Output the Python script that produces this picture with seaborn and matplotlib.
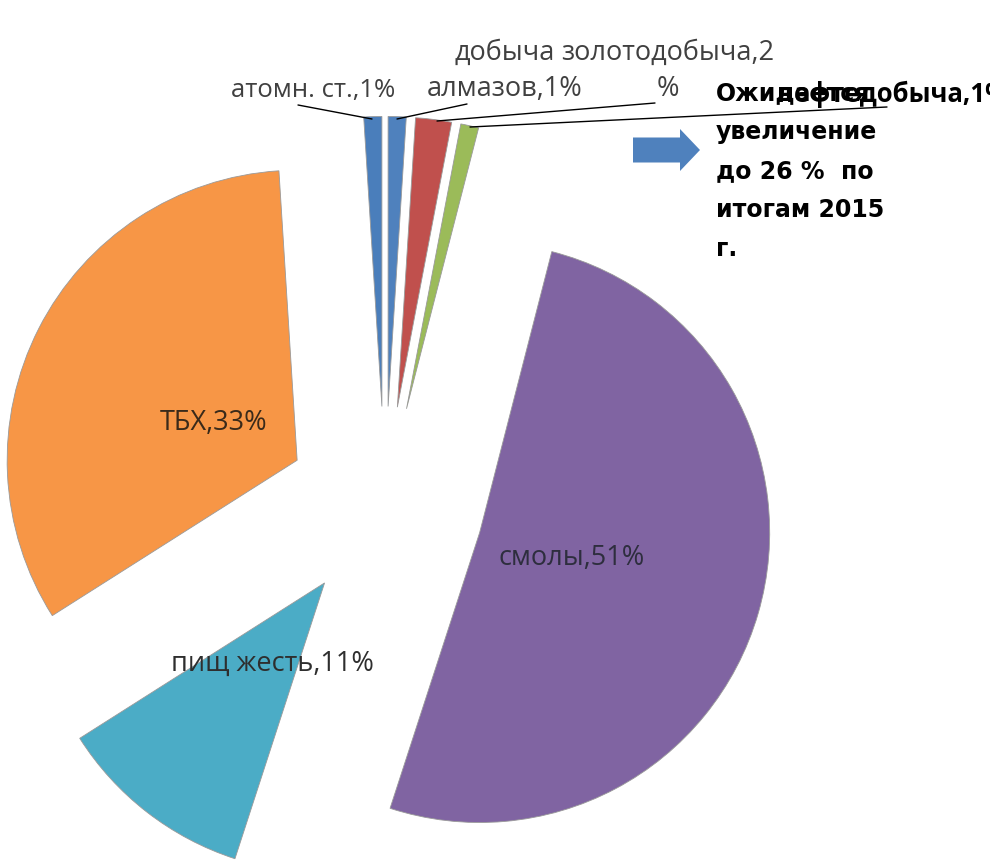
import matplotlib
matplotlib.use("Agg")
import matplotlib.pyplot as plt
import seaborn as sns
from matplotlib.patches import FancyArrow

sns.set_theme(style="white")
plt.rcParams['font.family'] = ['Open Sans', 'DejaVu Sans']

# Data (clockwise from 12 o'clock)
categories = ["добыча алмазов", "золотодобыча", "нефтедобыча", "смолы",
              "пищ жесть", "ТБХ", "атомн. ст."]
values = [1, 2, 1, 51, 11, 33, 1]
colors = ["#4F81BD", "#C0504D", "#9BBB59", "#8064A2", "#4BACC6", "#F79646", "#4A7EBB"]

W, H = 990, 865
R = 290
explode = [0.34 * R] * len(values)   # matplotlib offsets in data units

fig = plt.figure(figsize=(W / 100, H / 100), dpi=100)
ax = fig.add_axes([0, 0, 1, 1])

def P(px, py):
    return (px, H - py)

ax.pie(values, colors=colors, explode=explode, startangle=90,
       counterclock=False, center=P(385, 505), radius=R,
       wedgeprops=dict(edgecolor="#9a9a9a", linewidth=0.6), frame=True)
ax.set_xlim(0, W)
ax.set_ylim(0, H)
ax.set_aspect('auto')
ax.axis('off')

lc = "#404040"
fs = 19.5
# outside labels
ax.text(*P(313, 90), "атомн. ст.,1%", ha="center", va="center", fontsize=18.5, color=lc)
ax.text(*P(505, 71), "добыча\nалмазов,1%", ha="center", va="center", fontsize=fs,
        color=lc, linespacing=1.4)
ax.text(*P(668, 71), "золотодобыча,2\n%", ha="center", va="center", fontsize=fs,
        color=lc, linespacing=1.4)
ax.text(*P(777, 94), "нефтедобыча,1%", ha="left", va="center", fontsize=18.5,
        color="black", fontweight="bold")

# leader lines
for (x1, y1), (x2, y2) in [((298, 105), (372, 119)), ((467, 104), (397, 119)),
                           ((655, 103), (437, 121)), ((887, 107), (470, 127))]:
    ax.plot([x1, x2], [H - y1, H - y2], color="black", lw=1.0)

# inside labels
ax.text(*P(214, 423), "ТБХ,33%", ha="center", va="center", fontsize=fs, color="#3a2a1a")
ax.text(*P(572, 558), "смолы,51%", ha="center", va="center", fontsize=fs, color="#2e2e3e")
ax.text(*P(272, 664), "пищ жесть,11%", ha="center", va="center", fontsize=fs, color="#2e2e2e")

# arrow and note
ax.add_patch(FancyArrow(633, H - 150, 47, 0, width=25, head_width=42, head_length=20,
                        length_includes_head=False, color="#4F81BD", lw=0))
note = ["Ожидается", "увеличение", "до 26 %  по", "итогам 2015", "г."]
for i, line in enumerate(note):
    ax.text(*P(716, 93 + 39 * i), line, ha="left", va="center", fontsize=17,
            fontweight="bold", color="black", family=['DejaVu Sans'])

fig.savefig("out.png", dpi=100)
